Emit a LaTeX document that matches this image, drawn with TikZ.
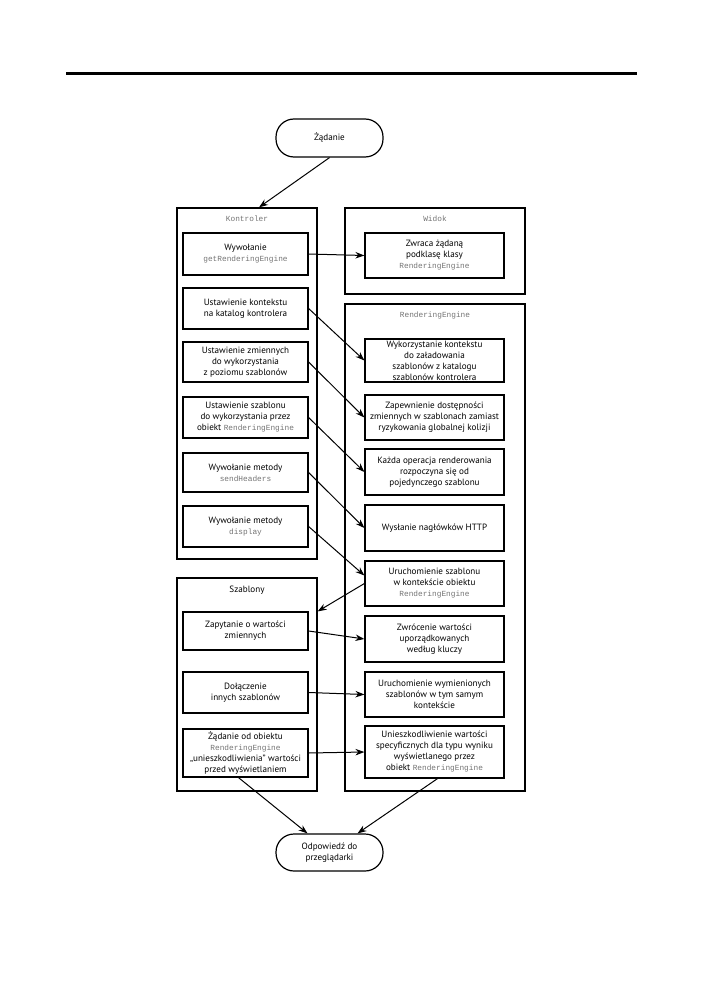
\documentclass[tikz,border=0pt]{standalone}
\usepackage{fontspec}
\setmainfont{PT Sans}
\newfontfamily\monof{Liberation Mono}
\usetikzlibrary{arrows.meta,calc}
\newcommand{\mycode}[1]{{\monof\fontsize{7.8}{11}\selectfont\color{black!55}#1}}
\begin{document}
\begin{tikzpicture}[x=1pt,y=-1pt,
  font=\fontsize{9.1}{11}\selectfont,
  outerbox/.style={draw,line width=1.3pt,inner sep=0pt},
  inbox/.style={draw,line width=1.2pt,inner sep=0pt,align=center},
  lbox/.style={inbox,minimum width=125pt},
  rbox/.style={inbox,minimum width=139pt},
  stadium/.style={draw,line width=1.2pt,rounded corners=18pt,minimum width=107pt,align=center,inner sep=0pt},
  boxlabel/.style={inner sep=0pt,anchor=center},
  arr/.style={-{Stealth[length=9pt,width=6.5pt]},line width=1pt},
]
\useasboundingbox (0,0) rectangle (714,1008);
\fill (66,72.5) rectangle (637,75.5);

\node[stadium,minimum height=38pt] (zad) at (329.5,138) {Żądanie};
\node[stadium,minimum height=37pt] (odp) at (329.5,852.5) {Odpowiedź do\\przeglądarki};

\node[outerbox,minimum width=140pt,minimum height=351pt] (kon) at (247,383.5) {};
\node[outerbox,minimum width=180pt,minimum height=86pt] (wid) at (435,251) {};
\node[outerbox,minimum width=180pt,minimum height=487pt] (re) at (435,547.5) {};
\node[outerbox,minimum width=140pt,minimum height=213pt] (szab) at (247,684.5) {};

\node[boxlabel] (konl) at (247,219) {\mycode{Kontroler}};
\node[boxlabel] (widl) at (435,219) {\mycode{Widok}};
\node[boxlabel] (rel) at (435,315) {\mycode{RenderingEngine}};
\node[boxlabel] (szabl) at (247,590) {Szablony};

\node[lbox,minimum height=42pt] (k1) at (245.5,254) {Wywołanie\\\mycode{getRenderingEngine}};
\node[lbox,minimum height=41pt] (k2) at (245.5,308.5) {Ustawienie kontekstu\\na katalog kontrolera};
\node[lbox,minimum height=40pt] (k3) at (245.5,362) {Ustawienie zmiennych\\do wykorzystania\\z poziomu szablonów};
\node[lbox,minimum height=41pt] (k4) at (245.5,417.5) {Ustawienie szablonu\\do wykorzystania przez\\obiekt \mycode{RenderingEngine}};
\node[lbox,minimum height=39pt] (k5) at (245.5,472.5) {Wywołanie metody\\\mycode{sendHeaders}};
\node[lbox,minimum height=41pt] (k6) at (245.5,526.5) {Wywołanie metody\\\mycode{display}};
\node[lbox,minimum height=38pt] (s1) at (245.5,631) {Zapytanie o wartości\\zmiennych};
\node[lbox,minimum height=41pt] (s2) at (245.5,692.5) {Dołączenie\\innych szablonów};
\node[lbox,minimum height=48pt] (s3) at (245.5,753) {Żądanie od obiektu\\\mycode{RenderingEngine}\\„unieszkodliwienia” wartości\\przed wyświetlaniem};

\node[rbox,minimum height=45pt] (w1) at (434.5,255.5) {Zwraca żądaną\\podklasę klasy\\\mycode{RenderingEngine}};
\node[rbox,minimum height=43pt] (r1) at (434.5,360.5) {Wykorzystanie kontekstu\\do załadowania\\szablonów z katalogu\\szablonów kontrolera};
\node[rbox,minimum height=45pt] (r2) at (434.5,417.5) {Zapewnienie dostępności\\zmiennych w szablonach zamiast\\ryzykowania globalnej kolizji};
\node[rbox,minimum height=46pt] (r3) at (434.5,472) {Każda operacja renderowania\\rozpoczyna się od\\pojedynczego szablonu};
\node[rbox,minimum height=46pt] (r4) at (434.5,528) {Wysłanie nagłówków HTTP};
\node[rbox,minimum height=45pt] (r5) at (434.5,583.5) {Uruchomienie szablonu\\w kontekście obiektu\\\mycode{RenderingEngine}};
\node[rbox,minimum height=46pt] (r6) at (434.5,639) {Zwrócenie wartości\\uporządkowanych\\według kluczy};
\node[rbox,minimum height=45pt] (r7) at (434.5,694.5) {Uruchomienie wymienionych\\szablonów w tym samym\\kontekście};
\node[rbox,minimum height=52pt] (r8) at (434.5,752) {Unieszkodliwienie wartości\\specyficznych dla typu wyniku\\wyświetlanego przez\\obiekt \mycode{RenderingEngine}};

\draw[arr] (zad.south) -- ([xshift=12pt]kon.north);
\draw[arr] (k1.east) -- (w1.west);
\draw[arr] (k2.east) -- (r1.west);
\draw[arr] (k3.east) -- (r2.west);
\draw[arr] (k4.east) -- (r3.west);
\draw[arr] (k5.east) -- (r4.west);
\draw[arr] (k6.east) -- ([yshift=8pt]r5.west);
\draw[arr] (r5.west) -- (szab.east |- s1.north);
\draw[arr] (s1.east) -- (r6.west);
\draw[arr] (s2.east) -- (r7.west);
\draw[arr] (s3.east) -- (r8.west);
\draw[arr] ([xshift=-7pt]s3.south) -- ([xshift=-22pt]odp.north);
\draw[arr] ([xshift=3pt]r8.south) -- ([xshift=28pt]odp.north);
\end{tikzpicture}
\end{document}
